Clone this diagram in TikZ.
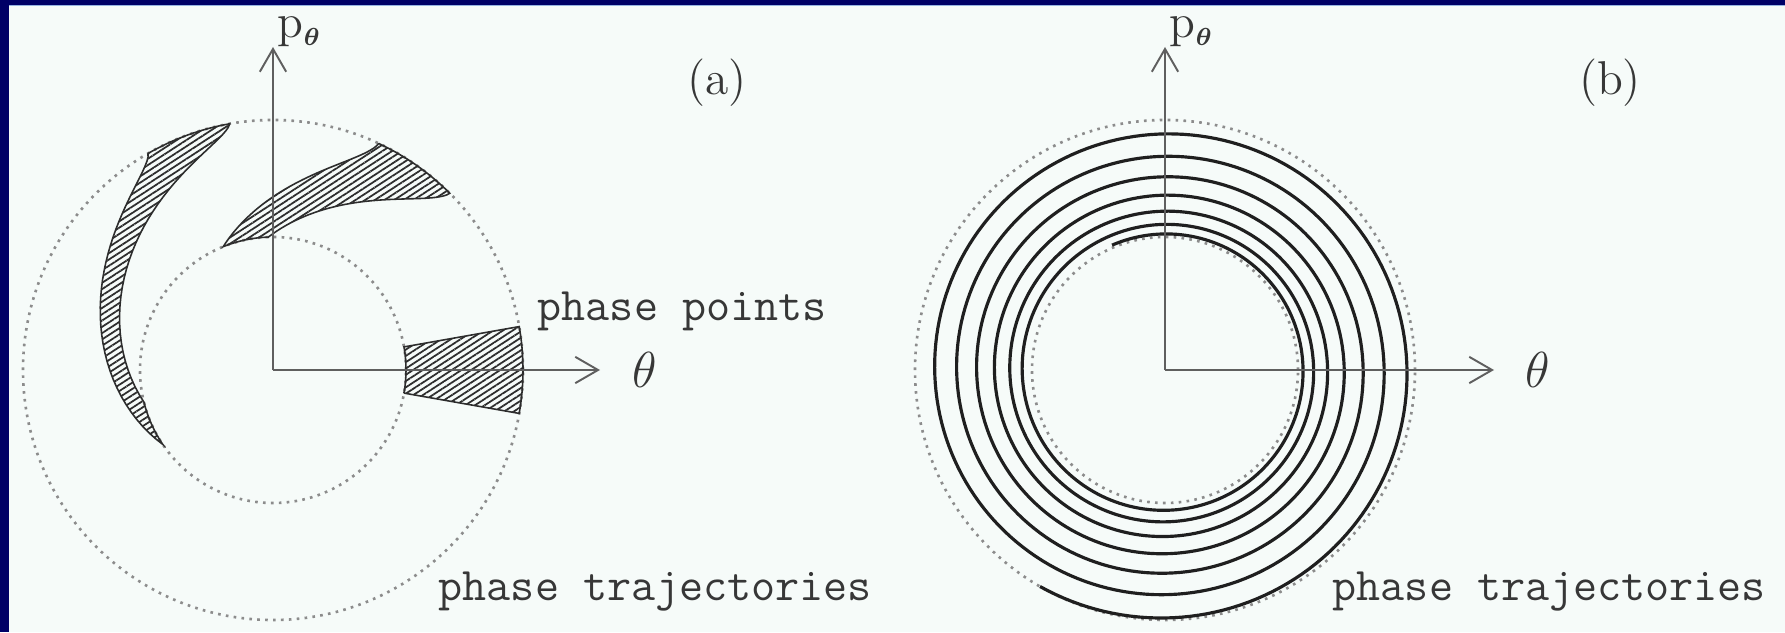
\documentclass[tikz,border=0pt]{standalone}
\usepackage{tikz}
\usetikzlibrary{arrows.meta, patterns.meta}
\usepackage{amsmath}

\definecolor{framenavy}{RGB}{0,0,102}
\definecolor{framelight}{RGB}{150,180,225}
\definecolor{paper}{RGB}{246,251,249}
\definecolor{axisgray}{RGB}{95,95,95}
\definecolor{dotgray}{RGB}{140,140,140}
\definecolor{inkgray}{RGB}{45,45,45}
\definecolor{txtgray}{RGB}{55,55,55}

\begin{document}
\begin{tikzpicture}[
    >={Straight Barb[length=6.5pt, width=7.5pt]},
    declare function={
        omg(\x)=55+47*(1-(\x-1.33)/1.17)*sqrt(max(0,1-(\x-1.33)/1.17));
        rsp(\x)=1.33+1.17*(1-\x/2600)*sqrt(1-\x/2600);
    },
    % Styles
    axisline/.style={draw=axisgray, line width=0.55pt, ->},
    orbit/.style={draw=dotgray, line width=0.75pt, dash pattern=on 0.75pt off 1.5pt},
    blob/.style={
        draw=inkgray, line width=0.45pt,
        pattern={Lines[angle=33, distance=1.5pt, line width=0.5pt]},
        pattern color=inkgray
    },
    traj/.style={draw=black!88, line width=0.9pt},
    axlabel/.style={font=\fontsize{13.5}{16}\selectfont, text=txtgray, inner sep=0pt},
    tag/.style={font=\fontsize{13.5}{16}\selectfont, text=txtgray, inner sep=0pt},
    note/.style={font=\fontsize{13.3}{16}\selectfont\ttfamily, text=txtgray, inner sep=0pt, anchor=base west}
  ]

    % --- Page and frame ---
    \useasboundingbox (0,0) rectangle (17.85,6.32);
    \fill[paper] (0,0) rectangle (17.85,6.32);
    \fill[framenavy] (0,0) rectangle (0.09,6.32);
    \fill[framenavy] (0,6.27) rectangle (17.85,6.32);
    \draw[framelight, line width=0.5pt] (0.09,6.265) -- (17.85,6.265);

    % --- Panel (a): phase points carried round ---
    \begin{scope}[shift={(2.73,2.62)}]
        \draw[orbit] (0,0) circle[radius=2.5];
        \draw[orbit] (0,0) circle[radius=1.33];

        \path[blob] (-10:1.33) -- (-10:2.5) arc[start angle=-10, end angle=10, radius=2.5]
            -- (10:1.33) arc[start angle=10, end angle=-10, radius=1.33] -- cycle;
        \path[blob] plot[domain=1.33:2.5, samples=40] ({-10+omg(\x)}:\x)
            arc[start angle=45, end angle=65, radius=2.5]
            -- plot[domain=2.5:1.33, samples=40] ({10+omg(\x)}:\x)
            arc[start angle=112, end angle=92, radius=1.33] -- cycle;
        \path[blob] plot[domain=1.33:2.5, samples=40] ({-10+2*omg(\x)}:\x)
            arc[start angle=100, end angle=120, radius=2.5]
            -- plot[domain=2.5:1.33, samples=40] ({10+2*omg(\x)}:\x)
            arc[start angle=214, end angle=194, radius=1.33] -- cycle;

        \coordinate (Oa) at (0,0);
        \coordinate (Oa-th) at (3.27,0);
        \coordinate (Oa-p) at (0,3.23);
        \draw[axisline] (Oa) -- (Oa-th);
        \draw[axisline] (Oa) -- (Oa-p);

        \node[axlabel, anchor=west] (tha) at (3.59,0) {$\theta$};
        \node[axlabel, anchor=base west] (pa) at (0.04,3.32) {p$_{\scriptscriptstyle\boldsymbol{\theta}}$};
        \node[tag] (taga) at (4.44,2.87) {(a)};
        \node[note] (ptsa) at (2.64,0.50) {phase points};
        \node[note] (trja) at (1.65,-2.30) {phase trajectories};
    \end{scope}

    % --- Panel (b): one trajectory winding in ---
    \begin{scope}[shift={(11.65,2.62)}]
        \draw[orbit] (0,0) circle[radius=2.5];
        \draw[orbit] (0,0) circle[radius=1.33];

        \draw[traj] plot[domain=0:2393, samples=1200] ({240+\x}:{rsp(\x)});

        \coordinate (Ob) at (0,0);
        \coordinate (Ob-th) at (3.29,0);
        \coordinate (Ob-p) at (0,3.23);
        \draw[axisline] (Ob) -- (Ob-th);
        \draw[axisline] (Ob) -- (Ob-p);

        \node[axlabel, anchor=west] (thb) at (3.60,0) {$\theta$};
        \node[axlabel, anchor=base west] (pb) at (0.04,3.32) {p$_{\scriptscriptstyle\boldsymbol{\theta}}$};
        \node[tag] (tagb) at (4.45,2.87) {(b)};
        \node[note] (trjb) at (1.67,-2.30) {phase trajectories};
    \end{scope}

  \end{tikzpicture}
\end{document}
